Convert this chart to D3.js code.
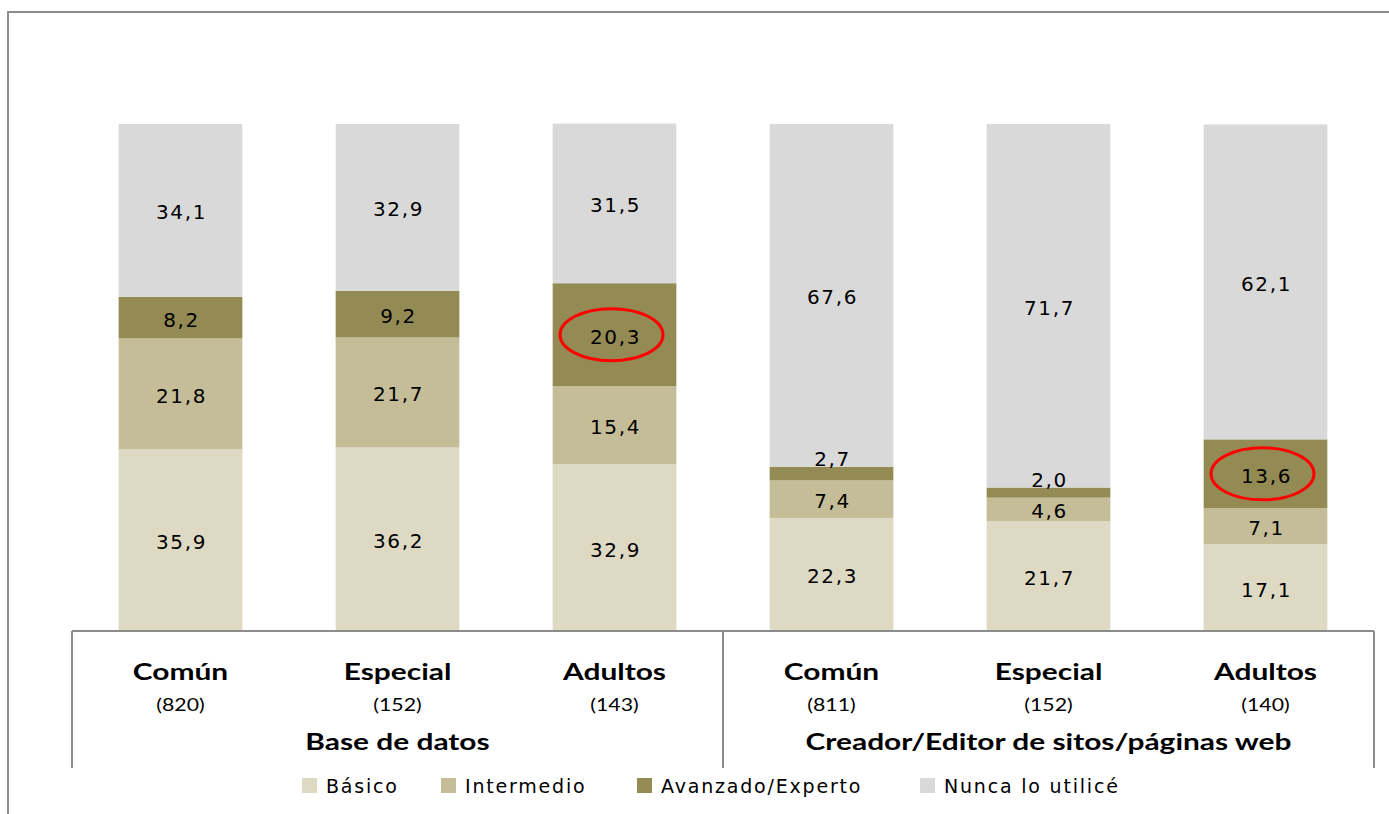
<!DOCTYPE html>
<html>
<head>
<meta charset="utf-8">
<script src="https://cdn.jsdelivr.net/npm/d3@7/dist/d3.min.js"></script>
<style>
  html, body { margin: 0; padding: 0; background: #fff; }
  svg { display: block; }
</style>
</head>
<body>
<svg id="chart" width="1389" height="814"></svg>
<script>
// Nivel de uso declarado por tipo de alumno y herramienta (%)
const groups = ["Base de datos", "Creador/Editor de sitos/páginas web"];
const categories = ["Común", "Especial", "Adultos", "Común", "Especial", "Adultos"];
const sampleSizes = ["(820)", "(152)", "(143)", "(811)", "(152)", "(140)"];
const seriesNames = ["Básico", "Intermedio", "Avanzado/Experto", "Nunca lo utilicé"];
const basico     = [35.9, 36.2, 32.9, 22.3, 21.7, 17.1];
const intermedio = [21.8, 21.7, 15.4, 7.4, 4.6, 7.1];
const avanzado   = [8.2, 9.2, 20.3, 2.7, 2.0, 13.6];
const nunca      = [34.1, 32.9, 31.5, 67.6, 71.7, 62.1];
// Segments highlighted with a red ring
const highlighted = [{ bar: 2, series: "Avanzado/Experto" }, { bar: 5, series: "Avanzado/Experto" }];

const colors = ["#ddd9c3", "#c4bd97", "#948a54", "#d9d9d9"];
const valuesBySeries = [basico, intermedio, avanzado, nunca];

const rows = categories.map((c, i) => {
  const r = { key: i };
  seriesNames.forEach((s, j) => { r[s] = valuesBySeries[j][i]; });
  return r;
});

const svg = d3.select("#chart");
const barsPerGroup = 3;

// Outer frame
svg.append("rect")
  .attr("x", 8).attr("y", 12)
  .attr("width", 1500).attr("height", 900)
  .attr("fill", "none").attr("stroke", "#8c8c8c").attr("stroke-width", 2);

const x = d3.scaleBand()
  .domain(rows.map(r => r.key))
  .range([72, 1374])
  .paddingInner(0.43)
  .paddingOuter(0.215);

const y = d3.scaleLinear().domain([0, 100]).range([631, 124]);

const stack = d3.stack().keys(seriesNames);
const stacked = stack(rows);

const layer = svg.append("g").selectAll("g")
  .data(stacked)
  .join("g")
  .attr("fill", (d, i) => colors[i]);

layer.selectAll("rect")
  .data(d => d)
  .join("rect")
  .attr("x", d => x(d.data.key))
  .attr("y", d => y(d[1]))
  .attr("width", x.bandwidth())
  .attr("height", d => y(d[0]) - y(d[1]));

// Value labels, centred in each segment; thin segments get the label just above
const fmt = v => v.toFixed(1).replace(".", ",");
const labels = svg.append("g")
  .attr("font-family", "DejaVu Sans, Verdana, sans-serif")
  .attr("font-size", 20)
  .attr("letter-spacing", 1.6)
  .attr("fill", "#000")
  .attr("text-anchor", "middle");

stacked.forEach(series => {
  series.forEach(d => {
    const v = d[1] - d[0];
    const top = y(d[1]), bottom = y(d[0]);
    const h = bottom - top;
    let cy = (top + bottom) / 2 + 2;
    if (h < 20) cy = top - 8;
    labels.append("text")
      .attr("x", x(d.data.key) + x.bandwidth() / 2 + 1)
      .attr("y", cy)
      .attr("dy", "0.35em")
      .text(fmt(v));
  });
});

// Red rings
highlighted.forEach(hl => {
  const s = stacked.find(l => l.key === hl.series);
  const d = s[hl.bar];
  svg.append("ellipse")
    .attr("cx", x(d.data.key) + x.bandwidth() / 2 - 3)
    .attr("cy", (y(d[0]) + y(d[1])) / 2)
    .attr("rx", 51.5).attr("ry", 26)
    .attr("fill", "none").attr("stroke", "#ff0000").attr("stroke-width", 3);
});

// Category axis with group dividers
const axisColor = "#8c8c8c";
svg.append("line")
  .attr("x1", 72).attr("x2", 1374).attr("y1", 631).attr("y2", 631)
  .attr("stroke", axisColor).attr("stroke-width", 2);

const step = x.step();
const groupEdges = d3.range(groups.length + 1).map(g => x.range()[0] + g * barsPerGroup * step);
svg.append("g").selectAll("line")
  .data(groupEdges)
  .join("line")
  .attr("x1", d => d).attr("x2", d => d)
  .attr("y1", 631).attr("y2", 768)
  .attr("stroke", axisColor).attr("stroke-width", 2);

// Axis text is set in a condensed face and widened horizontally
const catFont = "Lato, Carlito, Calibri, sans-serif";
const widen = 1.3;
svg.append("g").selectAll("text")
  .data(categories)
  .join("text")
  .attr("transform", (d, i) => `translate(${x(i) + x.bandwidth() / 2},680) scale(${widen},1)`)
  .attr("text-anchor", "middle")
  .attr("font-family", catFont)
  .attr("font-weight", "bold")
  .attr("font-size", 23)
  .text(d => d);

svg.append("g").selectAll("text")
  .data(sampleSizes)
  .join("text")
  .attr("transform", (d, i) => `translate(${x(i) + x.bandwidth() / 2},711) scale(1.25,1)`)
  .attr("text-anchor", "middle")
  .attr("font-family", catFont)
  .attr("font-size", 17)
  .text(d => d);

svg.append("g").selectAll("text")
  .data(groups)
  .join("text")
  .attr("transform", (d, i) => `translate(${(groupEdges[i] + groupEdges[i + 1]) / 2},750) scale(${widen},1)`)
  .attr("text-anchor", "middle")
  .attr("font-family", catFont)
  .attr("font-weight", "bold")
  .attr("font-size", 23)
  .text(d => d);

// Legend
const legendX = [302, 441, 637, 920];
const legend = svg.append("g").selectAll("g")
  .data(seriesNames)
  .join("g")
  .attr("transform", (d, i) => `translate(${legendX[i]},778)`);
legend.append("rect")
  .attr("width", 15).attr("height", 15)
  .attr("fill", (d, i) => colors[i]);
legend.append("text")
  .attr("x", 24).attr("y", 8)
  .attr("dy", "0.35em")
  .attr("font-family", "DejaVu Sans, Verdana, sans-serif")
  .attr("font-size", 19)
  .attr("letter-spacing", 1.8)
  .text(d => d);
</script>
</body>
</html>
